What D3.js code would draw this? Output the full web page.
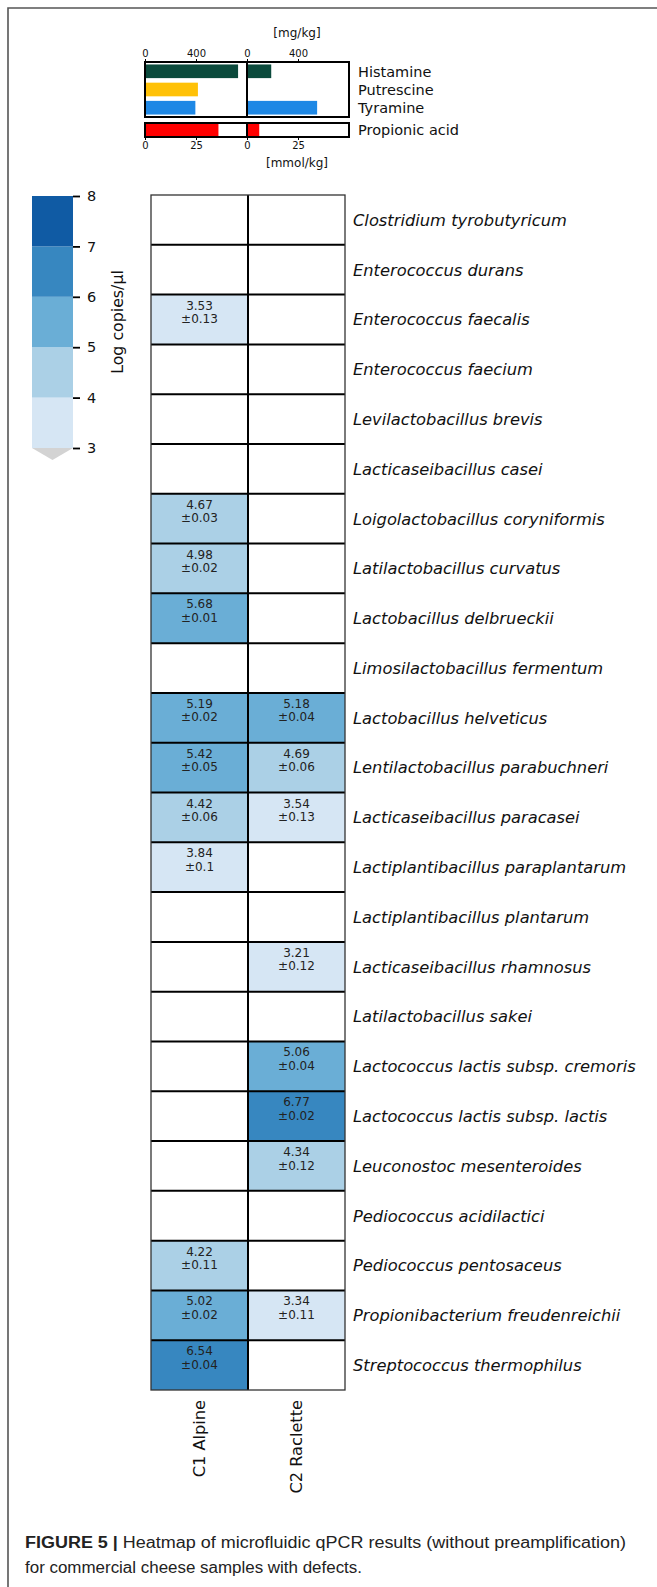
<!DOCTYPE html>
<html>
<head>
<meta charset="utf-8">
<script src="https://cdn.jsdelivr.net/npm/d3@7"></script>
<style>
  html, body { margin: 0; padding: 0; background: #fff; }
  svg { display: block; }
</style>
</head>
<body>
<svg id="fig" width="657" height="1587"></svg>
<script>
// ---- data ----
const species = [
  "Clostridium tyrobutyricum", "Enterococcus durans", "Enterococcus faecalis",
  "Enterococcus faecium", "Levilactobacillus brevis", "Lacticaseibacillus casei",
  "Loigolactobacillus coryniformis", "Latilactobacillus curvatus", "Lactobacillus delbrueckii",
  "Limosilactobacillus fermentum", "Lactobacillus helveticus", "Lentilactobacillus parabuchneri",
  "Lacticaseibacillus paracasei", "Lactiplantibacillus paraplantarum", "Lactiplantibacillus plantarum",
  "Lacticaseibacillus rhamnosus", "Latilactobacillus sakei", "Lactococcus lactis subsp. cremoris",
  "Lactococcus lactis subsp. lactis", "Leuconostoc mesenteroides", "Pediococcus acidilactici",
  "Pediococcus pentosaceus", "Propionibacterium freudenreichii", "Streptococcus thermophilus"
];
const samples = ["C1 Alpine", "C2 Raclette"];

// log copies/µl (mean, sd); null = not detected
const meanC1 = [null, null, 3.53, null, null, null, 4.67, 4.98, 5.68, null, 5.19, 5.42,
                4.42, 3.84, null, null, null, null, null, null, null, 4.22, 5.02, 6.54];
const sdC1   = [null, null, 0.13, null, null, null, 0.03, 0.02, 0.01, null, 0.02, 0.05,
                0.06, 0.1,  null, null, null, null, null, null, null, 0.11, 0.02, 0.04];
const meanC2 = [null, null, null, null, null, null, null, null, null, null, 5.18, 4.69,
                3.54, null, null, 3.21, null, 5.06, 6.77, 4.34, null, null, 3.34, null];
const sdC2   = [null, null, null, null, null, null, null, null, null, null, 0.04, 0.06,
                0.13, null, null, 0.12, null, 0.04, 0.02, 0.12, null, null, 0.11, null];

// biogenic amines [mg/kg] and propionic acid [mmol/kg]
const amines = ["Histamine", "Putrescine", "Tyramine"];
const amineC1 = [730, 415, 395];
const amineC2 = [190, 0, 550];
const amineColors = ["#0b4a3c", "#ffc107", "#1e88e5"];
const acidLabel = "Propionic acid";
const acidC1 = 36;
const acidC2 = 6;
const amineTicks = [0, 400];
const acidTicks = [0, 25];

const cbarTicks = [3, 4, 5, 6, 7, 8];
const cbarColors = ["#d6e6f4", "#abd0e6", "#6aaed6", "#3787c0", "#105ba4"];

const svg = d3.select("#fig");
const FONT = "DejaVu Sans, Verdana, sans-serif";

// ---- page frame ----
svg.append("path")
  .attr("d", "M8,1587 L8,8 L657,8")
  .attr("fill", "none").attr("stroke", "#555").attr("stroke-width", 1.6);

// ---- heatmap ----
const y = d3.scaleBand().domain(species).range([195, 1390]);
const x = d3.scaleBand().domain(samples).range([151, 345]);
const color = d3.scaleThreshold().domain([4, 5, 6, 7]).range(cbarColors);

const cells = [];
species.forEach((s, i) => {
  cells.push({ sp: s, sample: samples[0], m: meanC1[i], sd: sdC1[i] });
  cells.push({ sp: s, sample: samples[1], m: meanC2[i], sd: sdC2[i] });
});

const hm = svg.append("g");
hm.selectAll("rect.cell").data(cells).join("rect")
  .attr("class", "cell")
  .attr("x", d => x(d.sample)).attr("y", d => y(d.sp))
  .attr("width", x.bandwidth()).attr("height", y.bandwidth())
  .attr("fill", d => d.m == null ? "#ffffff" : color(d.m));

// internal grid lines
hm.selectAll("line.h").data(species.slice(1)).join("line")
  .attr("x1", x.range()[0]).attr("x2", x.range()[1])
  .attr("y1", d => y(d)).attr("y2", d => y(d))
  .attr("stroke", "#000").attr("stroke-width", 2);
hm.append("line")
  .attr("x1", x(samples[1])).attr("x2", x(samples[1]))
  .attr("y1", y.range()[0]).attr("y2", y.range()[1])
  .attr("stroke", "#000").attr("stroke-width", 2);
hm.append("rect")
  .attr("x", x.range()[0]).attr("y", y.range()[0])
  .attr("width", x.range()[1] - x.range()[0]).attr("height", y.range()[1] - y.range()[0])
  .attr("fill", "none").attr("stroke", "#333").attr("stroke-width", 1.3);

// value annotations
const ann = hm.selectAll("g.ann").data(cells.filter(d => d.m != null)).join("g")
  .attr("class", "ann")
  .attr("font-family", FONT).attr("font-size", 12).attr("fill", "#222")
  .attr("text-anchor", "middle");
ann.append("text")
  .attr("x", d => x(d.sample) + x.bandwidth() / 2)
  .attr("y", d => y(d.sp) + 15)
  .text(d => String(d.m));
ann.append("text")
  .attr("x", d => x(d.sample) + x.bandwidth() / 2)
  .attr("y", d => y(d.sp) + 28.5)
  .text(d => "±" + String(d.sd));

// species labels
svg.append("g").selectAll("text").data(species).join("text")
  .attr("x", 353)
  .attr("y", d => y(d) + y.bandwidth() / 2)
  .attr("dy", "0.36em")
  .attr("font-family", FONT).attr("font-style", "italic").attr("font-size", 16.3)
  .attr("fill", "#111")
  .text(d => d);

// sample labels (rotated)
svg.append("g").selectAll("text").data(samples).join("text")
  .attr("transform", d => `translate(${x(d) + x.bandwidth() / 2 + 5},1400) rotate(-90)`)
  .attr("text-anchor", "end")
  .attr("font-family", FONT).attr("font-size", 16.2)
  .attr("fill", "#111")
  .text(d => d);

// ---- colour bar ----
const cy = d3.scaleLinear().domain([3, 8]).range([448, 196]);
const cb = svg.append("g");
const bins = d3.range(cbarColors.length).map(i => ({ lo: cbarTicks[i], hi: cbarTicks[i + 1], c: cbarColors[i] }));
cb.selectAll("rect").data(bins).join("rect")
  .attr("x", 32).attr("width", 41)
  .attr("y", d => cy(d.hi)).attr("height", d => cy(d.lo) - cy(d.hi))
  .attr("fill", d => d.c);
cb.append("path")
  .attr("d", `M32,${cy(3)} L73,${cy(3)} L52.5,${cy(3) + 12} Z`)
  .attr("fill", "#d3d3d3");
const cAxis = d3.axisRight(cy).tickValues(cbarTicks).tickSize(7).tickPadding(7).tickFormat(d3.format("d"));
const cAx = cb.append("g").attr("transform", "translate(73,0)").call(cAxis);
cAx.select(".domain").remove();
cAx.selectAll(".tick line").attr("stroke", "#000").attr("stroke-width", 1.8);
cAx.selectAll(".tick text").attr("font-family", FONT).attr("font-size", 14.5).attr("fill", "#111");
cb.append("text")
  .attr("transform", `translate(117,${(cy(3) + cy(8)) / 2}) rotate(-90)`)
  .attr("text-anchor", "middle").attr("dy", "0.35em")
  .attr("font-family", FONT).attr("font-size", 15.8).attr("fill", "#111")
  .text("Log copies/µl");

// ---- amine / acid bars ----
const panelX = [145, 247];
const panelW = 102;
const xa = d3.scaleLinear().domain([0, 800]).range([0, panelW]);
const xp = d3.scaleLinear().domain([0, 50]).range([0, panelW]);
const ya = d3.scaleBand().domain(amines).range([63, 116]).paddingInner(0.25).paddingOuter(0.08);
const barsG = svg.append("g");

const amineSeries = [amineC1, amineC2];
panelX.forEach((px, p) => {
  barsG.selectAll(null).data(amines).join("rect")
    .attr("x", px).attr("y", d => ya(d))
    .attr("width", (d, i) => xa(amineSeries[p][i]))
    .attr("height", ya.bandwidth())
    .attr("fill", (d, i) => amineColors[i]);
  const acid = [acidC1, acidC2][p];
  barsG.append("rect")
    .attr("x", px).attr("y", 124).attr("width", xp(acid)).attr("height", 12)
    .attr("fill", "#ff0000");

  // top axis (mg/kg)
  const ta = barsG.append("g").attr("transform", `translate(${px},62)`)
    .call(d3.axisTop(xa).tickValues(amineTicks).tickSize(3).tickPadding(2).tickFormat(d3.format("d")));
  ta.select(".domain").remove();
  ta.selectAll(".tick line").attr("stroke", "#000");
  ta.selectAll(".tick text").attr("font-family", FONT).attr("font-size", 10).attr("fill", "#111");
  // bottom axis (mmol/kg)
  const ba = barsG.append("g").attr("transform", `translate(${px},137)`)
    .call(d3.axisBottom(xp).tickValues(acidTicks).tickSize(3).tickPadding(2).tickFormat(d3.format("d")));
  ba.select(".domain").remove();
  ba.selectAll(".tick line").attr("stroke", "#000");
  ba.selectAll(".tick text").attr("font-family", FONT).attr("font-size", 10).attr("fill", "#111");
});

// panel boxes
barsG.append("rect").attr("x", 145).attr("y", 62).attr("width", 2 * panelW).attr("height", 55)
  .attr("fill", "none").attr("stroke", "#000").attr("stroke-width", 2);
barsG.append("rect").attr("x", 145).attr("y", 123).attr("width", 2 * panelW).attr("height", 14)
  .attr("fill", "none").attr("stroke", "#000").attr("stroke-width", 2);
barsG.append("line").attr("x1", 247).attr("x2", 247).attr("y1", 62).attr("y2", 137)
  .attr("stroke", "#000").attr("stroke-width", 2);
barsG.append("rect").attr("x", 240).attr("y", 118).attr("width", 14).attr("height", 4).attr("fill", "#fff");

// labels on the right
barsG.selectAll("text.lbl").data(amines).join("text")
  .attr("class", "lbl")
  .attr("x", 358).attr("y", d => ya(d) + ya.bandwidth() / 2).attr("dy", "0.36em")
  .attr("font-family", FONT).attr("font-size", 14.5).attr("fill", "#111")
  .text(d => d);
barsG.append("text")
  .attr("x", 358).attr("y", 130).attr("dy", "0.36em")
  .attr("font-family", FONT).attr("font-size", 14.5).attr("fill", "#111")
  .text(acidLabel);
barsG.append("text")
  .attr("x", 297).attr("y", 37)
  .attr("text-anchor", "middle")
  .attr("font-family", FONT).attr("font-size", 12).attr("fill", "#111")
  .text("[mg/kg]");
barsG.append("text")
  .attr("x", 297).attr("y", 167)
  .attr("text-anchor", "middle")
  .attr("font-family", FONT).attr("font-size", 12).attr("fill", "#111")
  .text("[mmol/kg]");

// ---- caption ----
const cap = svg.append("g").attr("font-family", "Liberation Sans, Arial, sans-serif")
  .attr("font-size", 16).attr("fill", "#222");
const l1 = cap.append("text").attr("x", 25).attr("y", 1548)
  .attr("textLength", 601).attr("lengthAdjust", "spacingAndGlyphs");
l1.append("tspan").attr("font-weight", "bold").text("FIGURE 5 | ");
l1.append("tspan").text("Heatmap of microfluidic qPCR results (without preamplification)");
cap.append("text").attr("x", 25).attr("y", 1573)
  .attr("textLength", 337).attr("lengthAdjust", "spacingAndGlyphs")
  .text("for commercial cheese samples with defects.");
</script>
</body>
</html>
